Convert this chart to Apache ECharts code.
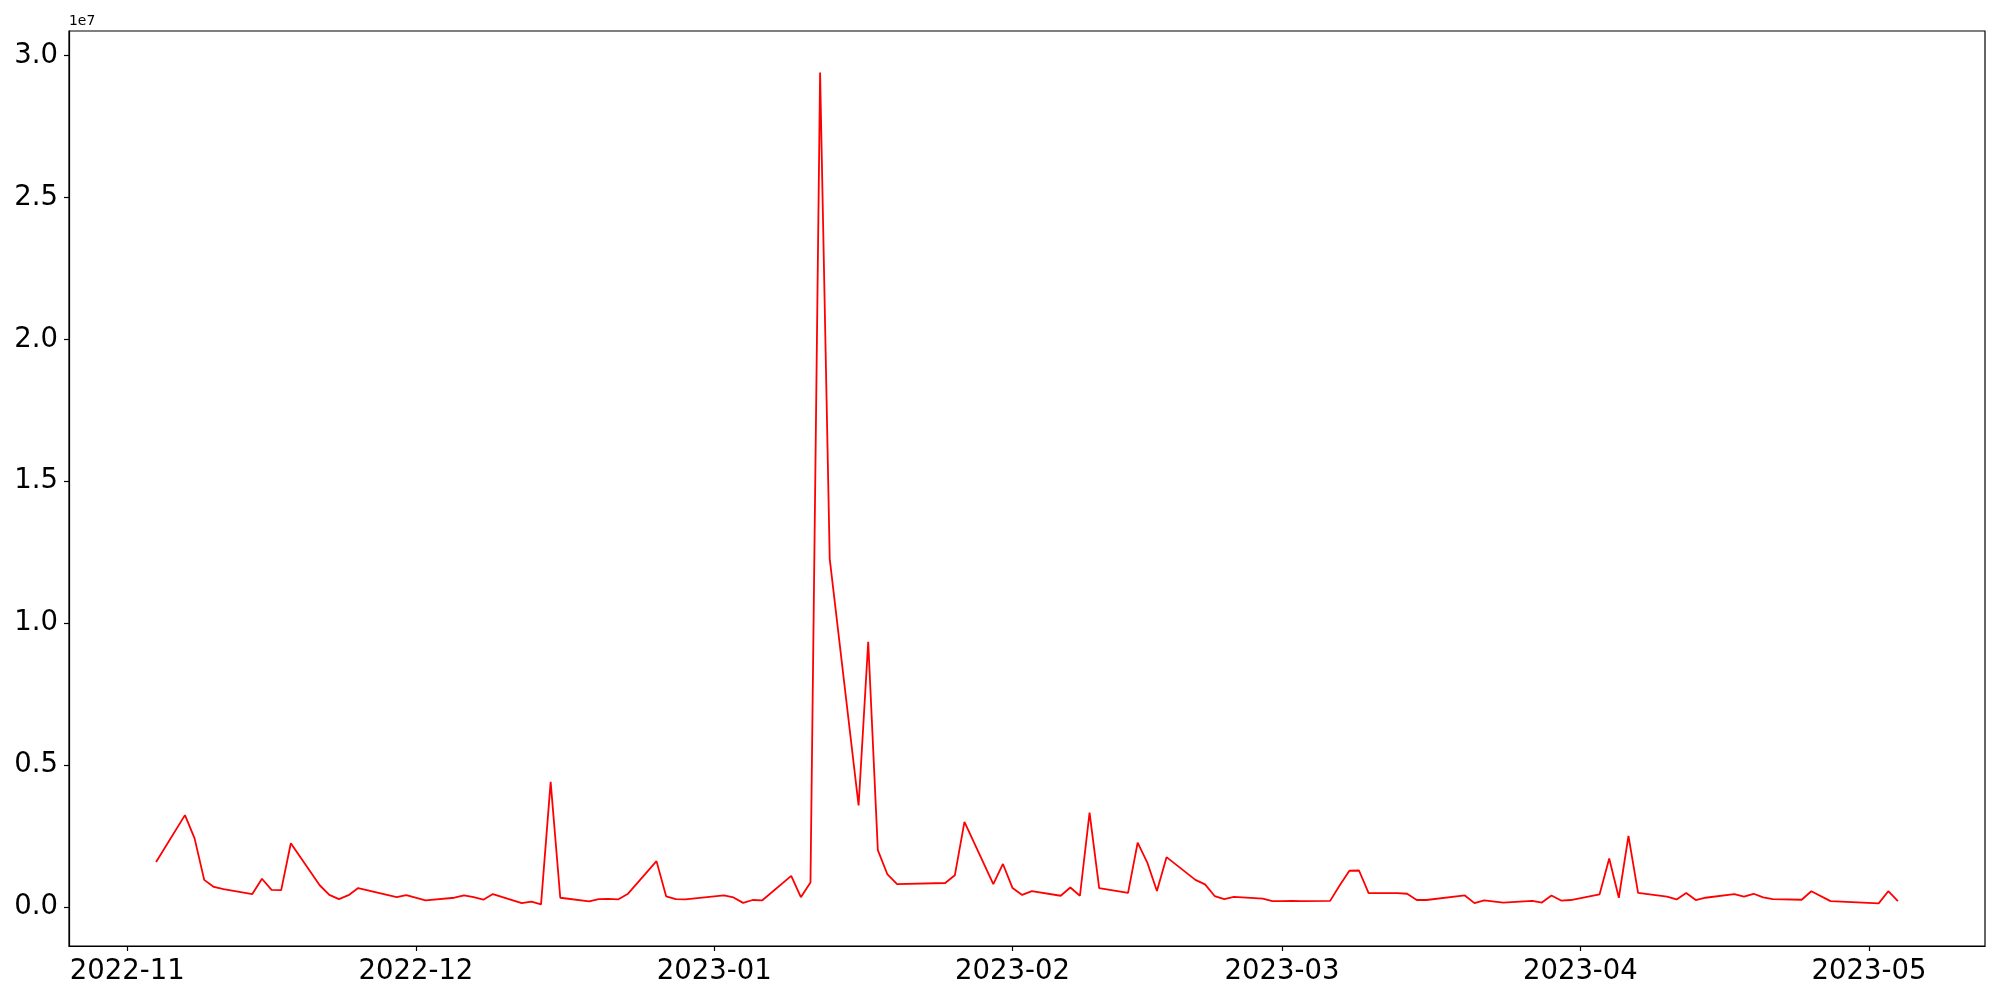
<!DOCTYPE html>
<html>
<head>
<meta charset="utf-8">
<script src="https://cdn.jsdelivr.net/npm/echarts@6/dist/echarts.min.js"></script>
<style>
html,body{margin:0;padding:0;background:#fff;}
#chart{width:2000px;height:1000px;}
</style>
</head>
<body>
<div id="chart"></div>
<script>
// ---- data ----
const dates = [
 '2022-11-04','2022-11-07','2022-11-08','2022-11-09','2022-11-10','2022-11-11',
 '2022-11-14','2022-11-15','2022-11-16','2022-11-17','2022-11-18',
 '2022-11-21','2022-11-22','2022-11-23','2022-11-24','2022-11-25',
 '2022-11-29','2022-11-30','2022-12-02',
 '2022-12-05','2022-12-06','2022-12-07','2022-12-08','2022-12-09',
 '2022-12-12','2022-12-13','2022-12-14','2022-12-15','2022-12-16',
 '2022-12-19','2022-12-20','2022-12-21','2022-12-22','2022-12-23',
 '2022-12-26','2022-12-27','2022-12-28','2022-12-29',
 '2023-01-02','2023-01-03','2023-01-04','2023-01-05','2023-01-06',
 '2023-01-09','2023-01-10','2023-01-11','2023-01-12','2023-01-13',
 '2023-01-16','2023-01-17','2023-01-18','2023-01-19','2023-01-20',
 '2023-01-25','2023-01-26','2023-01-27',
 '2023-01-30','2023-01-31','2023-02-01','2023-02-02','2023-02-03',
 '2023-02-06','2023-02-07','2023-02-08','2023-02-09','2023-02-10',
 '2023-02-13','2023-02-14','2023-02-15','2023-02-16','2023-02-17',
 '2023-02-20','2023-02-21','2023-02-22','2023-02-23','2023-02-24',
 '2023-02-27','2023-02-28','2023-03-01','2023-03-02','2023-03-03',
 '2023-03-06','2023-03-07','2023-03-08','2023-03-09','2023-03-10',
 '2023-03-13','2023-03-14','2023-03-15','2023-03-16',
 '2023-03-20','2023-03-21','2023-03-22','2023-03-24',
 '2023-03-27','2023-03-28','2023-03-29','2023-03-30','2023-03-31',
 '2023-04-03','2023-04-04','2023-04-05','2023-04-06','2023-04-07',
 '2023-04-10','2023-04-11','2023-04-12','2023-04-13','2023-04-14',
 '2023-04-17','2023-04-18','2023-04-19','2023-04-20','2023-04-21',
 '2023-04-24','2023-04-25','2023-04-27',
 '2023-05-02','2023-05-03','2023-05-04'
];
const values = [
 1590000,3240000,2420000,960000,710000,630000,
 460000,1000000,610000,600000,2250000,
 770000,430000,280000,420000,670000,
 350000,420000,240000,
 330000,410000,350000,260000,460000,
 140000,190000,95000,4410000,330000,
 200000,280000,290000,270000,460000,
 1620000,380000,280000,270000,
 410000,340000,150000,250000,240000,
 1100000,350000,870000,29400000,12270000,
 3580000,9350000,2010000,1150000,810000,
 850000,1120000,3000000,
 810000,1520000,670000,430000,560000,
 400000,690000,400000,3330000,670000,
 500000,2270000,1570000,570000,1760000,
 960000,800000,390000,280000,360000,
 300000,210000,210000,220000,210000,
 220000,770000,1280000,1290000,490000,
 490000,470000,250000,250000,
 410000,140000,240000,160000,
 220000,160000,410000,230000,250000,
 450000,1710000,330000,2510000,500000,
 370000,270000,500000,250000,330000,
 460000,370000,470000,340000,280000,
 260000,560000,210000,
 130000,560000,210000
];
const xTickLabels = ['2022-11','2022-12','2023-01','2023-02','2023-03','2023-04','2023-05'];
const yTickValues = [0, 5000000, 10000000, 15000000, 20000000, 25000000, 30000000];
const offsetText = '1e7';

// ---- build ----
function parseYMD(s){const p=s.split('-').map(Number);return new Date(p[0],p[1]-1,p[2]||1).getTime();}
const seriesData = dates.map((d,i)=>[parseYMD(d), values[i]]);
const xs = seriesData.map(p=>p[0]);
const xMinD = Math.min(...xs), xMaxD = Math.max(...xs);
const xPad = (xMaxD - xMinD) * 0.05;
const yMinD = Math.min(...values), yMaxD = Math.max(...values);
const yPad = (yMaxD - yMinD) * 0.05;
const xTickVals = xTickLabels.map(parseYMD);

const font = 'DejaVu Sans';
const chart = echarts.init(document.getElementById('chart'), null, {renderer:'canvas'});
chart.setOption({
  animation:false,
  backgroundColor:'#ffffff',
  grid:{left:69, right:15, top:31, bottom:54, show:true, borderColor:'#000', borderWidth:1.2, backgroundColor:'transparent'},
  xAxis:{
    type:'value', min:xMinD - xPad, max:xMaxD + xPad, scale:true,
    axisLine:{show:true, onZero:false, lineStyle:{color:'#000', width:1.2}},
    axisTick:{show:true, inside:false, length:5, lineStyle:{color:'#000', width:1.2}, customValues:xTickVals},
    axisLabel:{show:true, color:'#000', fontFamily:font, fontSize:27.5, margin:12,
      customValues:xTickVals,
      formatter:function(v){const d=new Date(v);return d.getFullYear()+'-'+String(d.getMonth()+1).padStart(2,'0');}},
    splitLine:{show:false}
  },
  yAxis:{
    type:'value', min:yMinD - yPad, max:yMaxD + yPad,
    axisLine:{show:true, onZero:false, lineStyle:{color:'#000', width:1.2}},
    axisTick:{show:true, inside:false, length:5, lineStyle:{color:'#000', width:1.2}, customValues:yTickValues},
    axisLabel:{show:true, color:'#000', fontFamily:font, fontSize:27.5, margin:11,
      customValues:yTickValues,
      formatter:function(v){return (v/1e7).toFixed(1);}},
    splitLine:{show:false}
  },
  graphic:[{type:'text', left:69, top:14, style:{text:offsetText, fontFamily:font, fontSize:13.9, fill:'#000'}}],
  series:[{
    type:'line', data:seriesData, showSymbol:false, symbol:'none',
    lineStyle:{color:'#ff0000', width:1.8}, itemStyle:{color:'#ff0000'}
  }]
});
</script>
</body>
</html>
